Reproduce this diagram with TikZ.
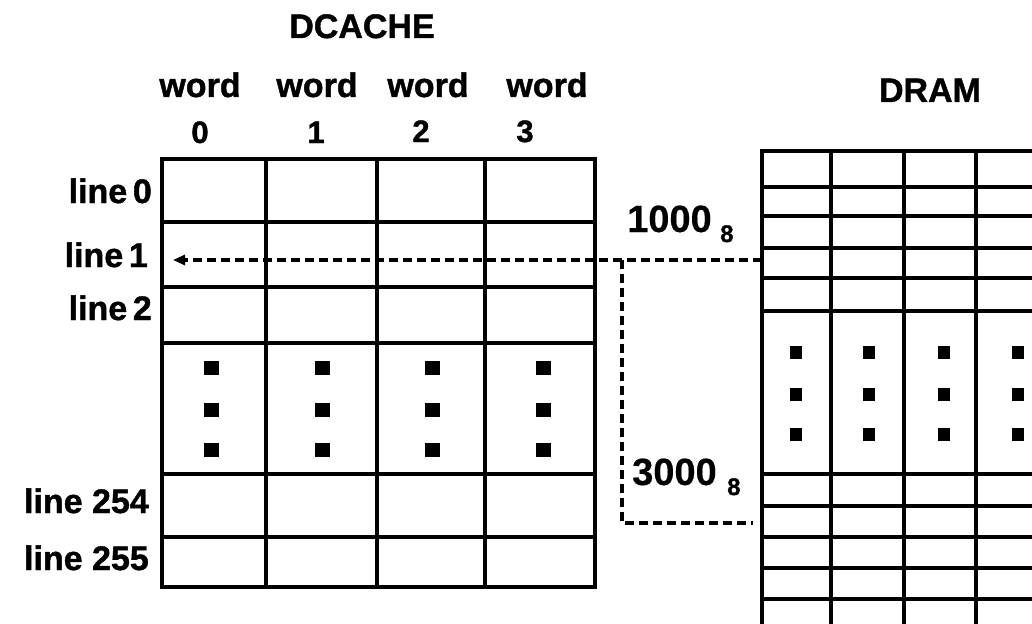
\documentclass[tikz,border=0pt]{standalone}
\usepackage{fontspec}
\setmainfont{Liberation Sans}
\newfontfamily\heavyfont{Liberation Sans Bold}[FakeBold=1.2]
\newfontfamily\boldfont{Liberation Sans Bold}[FakeBold=0.4]
\usetikzlibrary{arrows.meta}
\begin{document}
\begin{tikzpicture}[x=1pt,y=-1pt,
  gridline/.style={line width=3.2pt, line cap=rect},
  conn/.style={line width=3.4pt, dash pattern=on 9pt off 5pt},
  lbl/.style={inner sep=0pt, font=\heavyfont\fontsize{34}{38}\selectfont},
  numlbl/.style={inner sep=0pt, font=\heavyfont\fontsize{31}{34}\selectfont},
  addr/.style={inner sep=0pt, font=\boldfont\fontsize{38}{42}\selectfont},
  addrsub/.style={inner sep=0pt, font=\heavyfont\fontsize{24}{26}\selectfont}]
\useasboundingbox (0,0) rectangle (1032,623);
\begin{scope}
\clip (0,0) rectangle (1032,623);
% DCACHE grid
\foreach \x in {162,266,377,485,595} \draw[gridline] (\x,159) -- (\x,587);
\foreach \y in {159,222,287,343,474,537,587} \draw[gridline] (162,\y) -- (595,\y);
\foreach \x in {211,322,432,543} \foreach \y in {368,410,450} \fill (\x-7.5,\y-7) rectangle (\x+7.5,\y+7);
% DRAM grid
\foreach \x in {762,831,904,976} \draw[gridline] (\x,151) -- (\x,640);
\foreach \y in {151,187,216,248,278,311,474,506,537,568,599} \draw[gridline] (762,\y) -- (1045,\y);
\foreach \x in {796,869,944,1018} \foreach \y in {352,394,434} \fill (\x-6,\y-6.5) rectangle (\x+6,\y+6.5);
\end{scope}
% labels
\node[lbl, anchor=base] (dcache) at (362,38) {DCACHE};
\node[lbl, anchor=base] (w0) at (200,97) {word};
\node[lbl, anchor=base] (w1) at (317,97) {word};
\node[lbl, anchor=base] (w2) at (428,97) {word};
\node[lbl, anchor=base] (w3) at (547,97) {word};
\node[numlbl, anchor=base] (n0) at (200,143) {0};
\node[numlbl, anchor=base] (n1) at (316,143) {1};
\node[numlbl, anchor=base] (n2) at (421,142) {2};
\node[numlbl, anchor=base] (n3) at (525,142) {3};
\node[lbl, anchor=base east] (l0) at (152,203) {line\,0};
\node[lbl, anchor=base east] (l1) at (148,267) {line\,1};
\node[lbl, anchor=base east] (l2) at (152,320) {line\,2};
\node[lbl, anchor=base east] (l254) at (149,513) {line 254};
\node[lbl, anchor=base east] (l255) at (149,570) {line 255};
\node[lbl, anchor=base] (dram) at (930,102) {DRAM};
\node[addr, anchor=base west] (a1) at (627,232) {1000};
\node[addrsub, anchor=base west] (s1) at (720,242) {8};
\node[addr, anchor=base west] (a3) at (632,485) {3000};
\node[addrsub, anchor=base west] (s3) at (727,495) {8};
% connector
\coordinate (dramrow) at (762,260);
\coordinate (bendtop) at (622,260);
\coordinate (bendbot) at (622,523);
\coordinate (dramend) at (753,523);
\coordinate (line1tip) at (173,260);
\draw[conn, -{Triangle[length=12pt,width=10pt]}] (dramrow) -- (line1tip);
\draw[conn] (bendtop) -- (bendbot) -- (dramend);
\end{tikzpicture}
\end{document}
